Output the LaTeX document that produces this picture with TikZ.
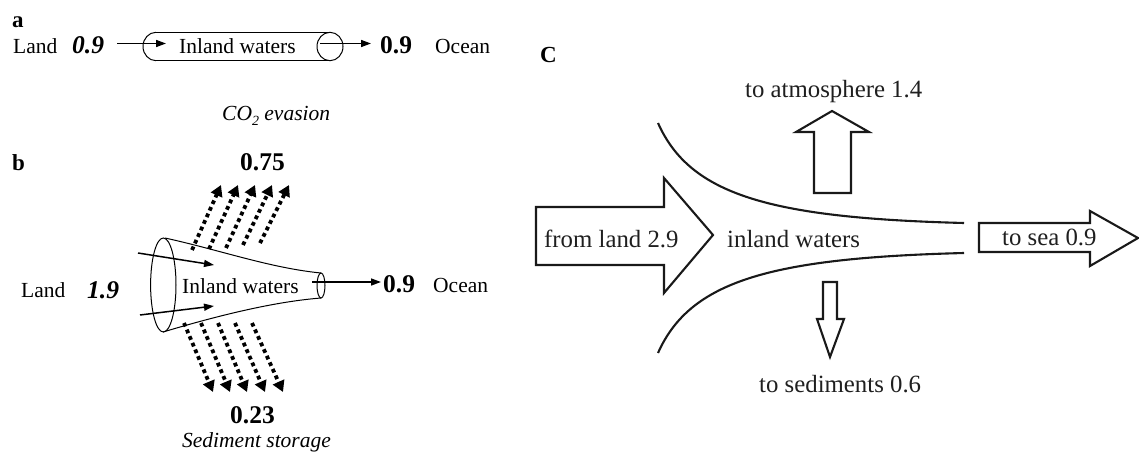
\documentclass[tikz,border=0pt]{standalone}
\usepackage{fontspec}
\setmainfont{Liberation Serif}
\usetikzlibrary{arrows.meta}
\begin{document}
\begin{tikzpicture}[x=1pt,y=-1pt,
  txt/.style={inner sep=0pt,anchor=base west,font=\fontsize{21.5}{24}\selectfont},
  num/.style={inner sep=0pt,anchor=base west,font=\fontsize{25.5}{28}\selectfont\bfseries},
  numi/.style={inner sep=0pt,anchor=base west,font=\fontsize{25.5}{28}\selectfont\bfseries\itshape},
  ctxt/.style={inner sep=0pt,anchor=base west,text=black!88,font=\fontsize{24.8}{27}\selectfont},
  thinarrow/.style={line width=1.5pt,-{Triangle[length=10pt,width=7pt]}},
  dotarrow/.style={line width=3.8pt,dash pattern=on 3.8pt off 3.4pt,-{Triangle[length=11pt,width=12pt]}},
  outline/.style={line width=1pt},
  fat/.style={line width=2.1pt,line join=miter,draw=black!90}
]
\useasboundingbox (0,0) rectangle (1139,452);

% ---------------- panel a ----------------
\node[txt,font=\fontsize{23}{25}\selectfont\bfseries] (alabel) at (12,28) {a};
\node[txt] (aland) at (13,53) {Land};
\node[numi] (ain) at (72,53) {0.9};
\node[txt] (aiw) at (179,53) {Inland waters};
\node[num] (aout) at (380,53) {0.9};
\node[txt] (aocean) at (435,53) {Ocean};
\draw[outline] (156,32.3) -- (330,32.3);
\draw[outline] (156,60.7) -- (330,60.7);
\draw[outline] (156,60.7) arc[start angle=90,end angle=270,x radius=13,y radius=14.2];
\draw[outline] (330,46.5) ellipse[x radius=13,y radius=14.2];
\coordinate (a1s) at (117,43.5);
\coordinate (a1e) at (166,43.5);
\coordinate (a2s) at (320,43.5);
\coordinate (a2e) at (371,43.5);
\draw[thinarrow] (a1s) -- (a1e);
\draw[thinarrow] (a2s) -- (a2e);

% ---------------- panel b ----------------
\node[txt] (co2) at (222,120) {\itshape CO\raisebox{-5pt}{\fontsize{14}{14}\selectfont 2}\ evasion};
\node[txt,font=\fontsize{23}{25}\selectfont\bfseries] (blabel) at (12,170) {b};
\node[num] (b075) at (240,170) {0.75};
\node[txt] (bland) at (21,297) {Land};
\node[numi] (bin) at (87,298) {1.9};
\node[txt] (biw) at (182,293) {Inland waters};
\node[num] (bout) at (383,292) {0.9};
\node[txt] (bocean) at (433,292) {Ocean};
\node[num] (b023) at (230,423) {0.23};
\node[txt] (bsed) at (182,447) {\itshape Sediment storage};

\draw[outline] (163.3,285) ellipse[x radius=12.7,y radius=47];
\draw[outline] (321,285.5) ellipse[x radius=4,y radius=12.5];
\draw[outline] (165,238) .. controls (220,250) and (270,268) .. (321,273);
\draw[outline] (163,332) .. controls (210,318) and (270,302) .. (321,298);

\coordinate (bi1s) at (138,253);
\coordinate (bi1e) at (214,265);
\coordinate (bi2s) at (140,315);
\coordinate (bi2e) at (214,306);
\draw[thinarrow] (bi1s) -- (bi1e);
\draw[thinarrow] (bi2s) -- (bi2e);
\coordinate (bos) at (312,282);
\coordinate (boe) at (381,282);
\draw[thinarrow] (bos) -- (boe);

% evasion arrows
\foreach \sx/\sy/\tx [count=\i] in {192/250/221,209/249/238,226/248/255,243/245/272,260/243/289}{
  \coordinate (up\i s) at (\sx,\sy);
  \coordinate (up\i e) at (\tx,185);
  \draw[dotarrow] (up\i s) -- (up\i e);
}
% sediment arrows
\foreach \sx/\tx [count=\i] in {184/213,201/230,218/247,235/265,252/283}{
  \coordinate (dn\i s) at (\sx,323);
  \coordinate (dn\i e) at (\tx,392);
  \draw[dotarrow] (dn\i s) -- (dn\i e);
}

% ---------------- panel c ----------------
\node[inner sep=0pt,anchor=base west,font=\fontsize{23}{25}\selectfont\bfseries] (clabel) at (540,63) {C};
\node[ctxt] (catm) at (745,97) {to atmosphere 1.4};
\node[ctxt] (cland) at (544,247) {from land 2.9};
\node[ctxt] (ciw) at (727,247) {inland waters};
\node[ctxt] (csea) at (1002,245) {to sea 0.9};
\node[ctxt] (csed) at (759,392) {to sediments 0.6};

% channel banks
\draw[fat] (658,123) .. controls (690,195) and (770,218) .. (964,223);
\draw[fat] (658,353) .. controls (690,281) and (770,258) .. (964,253);

% block arrows
\draw[fat] (536,207) -- (664,207) -- (664,178) -- (713,235) -- (664,293) -- (664,265) -- (536,265) -- cycle;
\draw[fat] (979,223) -- (1090,223) -- (1090,211) -- (1138,238) -- (1090,266) -- (1090,252) -- (979,252) -- cycle;
\draw[fat] (814,193) -- (814,132) -- (796,132) -- (832,111) -- (869,132) -- (851,132) -- (851,193) -- cycle;
\draw[fat] (823,282) -- (837,282) -- (837,319) -- (844,319) -- (830,357) -- (817,319) -- (823,319) -- cycle;

\end{tikzpicture}
\end{document}
